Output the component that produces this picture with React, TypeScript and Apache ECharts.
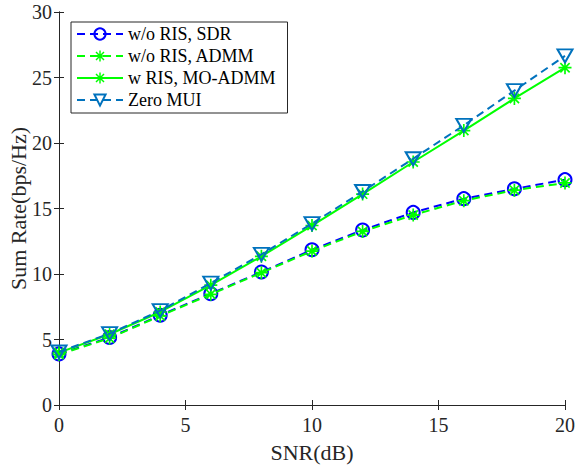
import React, { useEffect, useRef } from "react";
import * as echarts from "echarts";

const snr = [0, 2, 4, 6, 8, 10, 12, 14, 16, 18, 20];
const sdrNoRis = [3.9, 5.15, 6.85, 8.5, 10.15, 11.85, 13.35, 14.7, 15.75, 16.5, 17.2];
const admmNoRis = [3.85, 5.1, 6.8, 8.45, 10.1, 11.75, 13.25, 14.5, 15.6, 16.4, 16.95];
const moAdmmRis = [4.0, 5.4, 7.1, 9.15, 11.35, 13.7, 16.1, 18.55, 20.95, 23.4, 25.75];
const zeroMui = [4.05, 5.45, 7.2, 9.3, 11.5, 13.85, 16.3, 18.8, 21.35, 24.0, 26.65];
const seriesNames = ["w/o RIS, SDR", "w/o RIS, ADMM", "w RIS, MO-ADMM", "Zero MUI"];

const FONT = "Liberation Serif";
const AX = "#262626";
const STAR =
  "path://M-7,-0.9 L7,-0.9 L7,0.9 L-7,0.9 Z M-0.9,-7 L0.9,-7 L0.9,7 L-0.9,7 Z " +
  "M-4.36,-5.64 L5.64,4.36 L4.36,5.64 L-5.64,-4.36 Z M4.36,-5.64 L5.64,-4.36 L-4.36,5.64 L-5.64,4.36 Z";

const pairs = (ys: number[]) => snr.map((x, i) => [x, ys[i]]);

export default function App() {
  const ref = useRef<HTMLDivElement>(null);
  useEffect(() => {
    if (!ref.current) return;
    const chart = echarts.init(ref.current, undefined, { renderer: "svg" });
    const dash = [8, 5];
    chart.setOption({
      animation: false,
      backgroundColor: "#fff",
      textStyle: { fontFamily: FONT },
      grid: { left: 59, right: 12, top: 12, bottom: 61, outerBoundsMode: "none", containLabel: false },
      legend: {
        orient: "vertical",
        left: 71,
        top: 22,
        padding: [3, 12, 4, 5],
        itemGap: 4,
        itemWidth: 46,
        itemHeight: 14,
        backgroundColor: "#fff",
        borderColor: AX,
        borderWidth: 1,
        borderRadius: 0,
        textStyle: { fontFamily: FONT, fontSize: 18, color: "#000", lineHeight: 18 },
        data: seriesNames,
      },
      xAxis: [
        {
          type: "value",
          min: 0,
          max: 20,
          interval: 5,
          name: "SNR(dB)",
          nameLocation: "middle",
          nameGap: 36,
          nameMoveOverlap: false,
          nameTextStyle: { fontFamily: FONT, fontSize: 22, color: AX },
          axisLine: { lineStyle: { color: AX, width: 1 } },
          axisTick: { inside: true, length: 5, lineStyle: { color: AX } },
          axisLabel: { fontFamily: FONT, fontSize: 20, color: AX, margin: 10 },
          splitLine: { show: false },
        },
        {
          type: "value",
          position: "top",
          min: 0,
          max: 20,
          interval: 5,
          axisLine: { show: true, lineStyle: { color: AX, width: 1 } },
          axisTick: { inside: true, length: 5, lineStyle: { color: AX } },
          axisLabel: { show: false },
          splitLine: { show: false },
        },
      ],
      yAxis: [
        {
          type: "value",
          min: 0,
          max: 30,
          interval: 5,
          name: "Sum Rate(bps/Hz)",
          nameLocation: "middle",
          nameGap: 30,
          nameMoveOverlap: false,
          nameTextStyle: { fontFamily: FONT, fontSize: 22, color: AX },
          axisLine: { show: true, lineStyle: { color: AX, width: 1 } },
          axisTick: { show: true, inside: true, length: 5, lineStyle: { color: AX } },
          axisLabel: { fontFamily: FONT, fontSize: 20, color: AX, margin: 7 },
          splitLine: { show: false },
        },
        {
          type: "value",
          position: "right",
          min: 0,
          max: 30,
          interval: 5,
          axisLine: { show: true, lineStyle: { color: AX, width: 1 } },
          axisTick: { show: true, inside: true, length: 5, lineStyle: { color: AX } },
          axisLabel: { show: false },
          splitLine: { show: false },
        },
      ],
      series: [
        {
          name: seriesNames[0],
          type: "line",
          data: pairs(sdrNoRis),
          symbol: "circle",
          symbolSize: 13,
          lineStyle: { color: "#0000ff", width: 2, type: dash },
          itemStyle: { color: "rgba(0,0,0,0)", borderColor: "#0000ff", borderWidth: 2 },
          z: 2,
        },
        {
          name: seriesNames[1],
          type: "line",
          data: pairs(admmNoRis),
          symbol: STAR,
          symbolSize: 13,
          lineStyle: { color: "#00ff00", width: 2, type: dash },
          itemStyle: { color: "#00ff00", borderWidth: 0 },
          z: 3,
        },
        {
          name: seriesNames[2],
          type: "line",
          data: pairs(moAdmmRis),
          symbol: STAR,
          symbolSize: 13,
          lineStyle: { color: "#00ff00", width: 2, type: "solid" },
          itemStyle: { color: "#00ff00", borderWidth: 0 },
          z: 4,
        },
        {
          name: seriesNames[3],
          type: "line",
          data: pairs(zeroMui),
          symbol: "triangle",
          symbolRotate: 180,
          symbolSize: [15, 13],
          lineStyle: { color: "#0072bd", width: 2, type: dash },
          itemStyle: { color: "rgba(0,0,0,0)", borderColor: "#0072bd", borderWidth: 2 },
          z: 5,
        },
      ],
    });
    return () => chart.dispose();
  }, []);
  return <div ref={ref} style={{ width: 577, height: 466, position: "absolute", left: 0, top: 0 }} />;
}
